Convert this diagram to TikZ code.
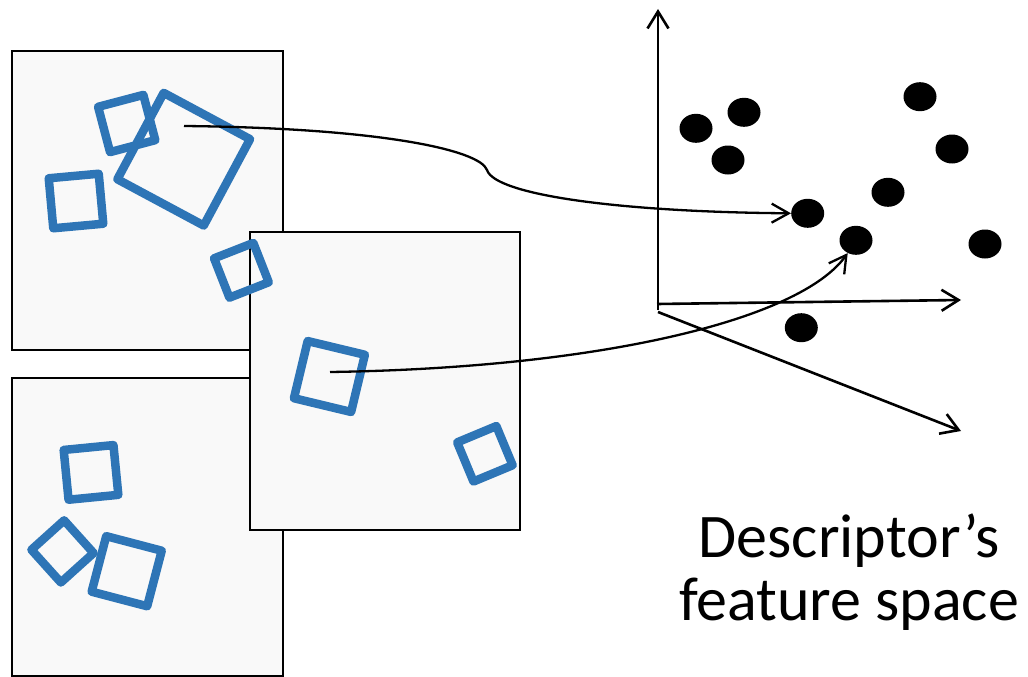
\documentclass[tikz,border=0pt]{standalone}
\usepackage{fontspec}
\setmainfont{Carlito}
\usetikzlibrary{arrows.meta,shapes.geometric}
\definecolor{sqblue}{RGB}{46,117,182}
\definecolor{panelfill}{RGB}{249,249,249}
\newcommand\bsq[4]{\draw[sq,shift={(#1,#2)},rotate=#3] (-#4,-#4) rectangle (#4,#4);}
\tikzset{
  panel/.style={draw=black,fill=panelfill,line width=1.5pt},
  sq/.style={draw=sqblue,line width=8.5pt,line join=round},
  axis/.style={line width=2.6pt,-{Straight Barb[length=17pt,width=21pt]}},
  conn/.style={line width=2.3pt,-{Straight Barb[length=17pt,width=19pt]}},
  dot/.style={ellipse,fill=black,minimum width=33pt,minimum height=29pt,inner sep=0pt}
}
\begin{document}
\begin{tikzpicture}[x=1pt,y=-1pt]
\useasboundingbox (0,0) rectangle (1028,677);
% image panels
\draw[panel] (12,51) rectangle (283,350);
\draw[panel] (12,378) rectangle (283,676);
\draw[panel] (250,232) rectangle (520,530);
% squares
\bsq{126.7}{123.5}{14.8}{23.4}
\bsq{183.7}{159.2}{-28.2}{49}
\bsq{76}{201}{5.2}{25.1}
\bsq{241.4}{270.3}{21.4}{21.1}
\bsq{329.4}{376.5}{-13.5}{29.4}
\bsq{484.9}{453.8}{22.6}{21.2}
\bsq{91}{472.4}{5.6}{25}
\bsq{62.5}{551.4}{42}{22}
\bsq{126.7}{571.2}{-14.7}{28.7}
% axes
\coordinate (ovt) at (658,310);
\coordinate (vt) at (658,9);
\coordinate (oh) at (657,304);
\coordinate (ht) at (961,300);
\coordinate (od) at (658,312);
\coordinate (dt) at (961,431);
\draw[axis] (ovt) -- (vt);
\draw[axis] (oh) -- (ht);
\draw[axis] (od) -- (dt);
% feature points
\node[dot] (d1) at (696,128.3) {};
\node[dot] (d2) at (744,112.3) {};
\node[dot] (d3) at (728,160) {};
\node[dot] (d4) at (920,96.7) {};
\node[dot] (d5) at (952,149) {};
\node[dot] (d6) at (888,192.3) {};
\node[dot] (d7) at (807.7,213.3) {};
\node[dot] (d8) at (856,240.3) {};
\node[dot] (d9) at (985,244) {};
\node[dot] (d10) at (801.3,327.7) {};
% connectors
\coordinate (s1) at (184,126);
\coordinate (s2) at (330,372);
\draw[conn] (s1) .. controls (380,128) and (480,150) .. (487,170)
  .. controls (495,195) and (620,212) .. (d7.west);
\draw[conn] (s2) .. controls (600,368) and (800,320) .. (d8.237);
% label
\node[align=center,inner sep=0pt,font=\fontsize{62}{63}\selectfont] (lbl) at (849,572)
  {Descriptor’s\\feature space};
\end{tikzpicture}
\end{document}
